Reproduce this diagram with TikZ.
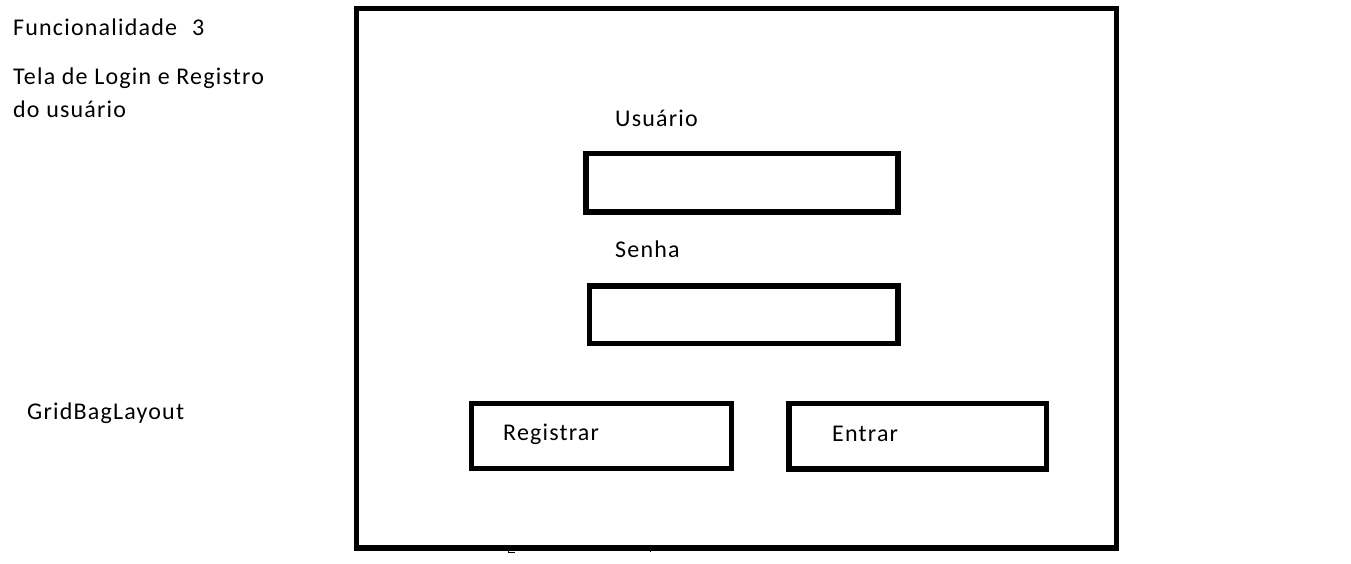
\documentclass[tikz,border=0pt]{standalone}
\usepackage{fontspec}
\setmainfont{Carlito}[LetterSpace=5]
\begin{document}
\begin{tikzpicture}[x=1pt,y=-1pt,
  box/.style={draw=black,line width=5.3pt,inner sep=0pt},
  lbl/.style={anchor=base west,inner sep=0pt,font=\fontsize{24}{28}\selectfont},
  tick/.style={draw=black,line width=1pt}]
\useasboundingbox[fill=white] (0,0) rectangle (1351,564);
% outer window
\node[box,minimum width=760pt,minimum height=539.5pt] (win) at (736.5,278.25) {};
% fields
\node[box,minimum width=312pt,minimum height=58.5pt] (user) at (742,182.75) {};
\node[box,minimum width=308.5pt,minimum height=57.3pt] (pass) at (743.75,314.7) {};
\node[box,minimum width=260pt,minimum height=65pt] (reg) at (601.5,436) {};
\node[box,minimum width=257.7pt,minimum height=65.5pt] (ent) at (917.85,436.25) {};
% texts
\node[lbl] (t1) at (13,36) {Funcionalidade};
\node[lbl] (t1n) at (192,36) {3};
\node[lbl] (t2) at (13,85) {Tela de Login e Registro};
\node[lbl] (t3) at (13,118) {do usuário};
\node[lbl] (t4) at (27,419) {GridBagLayout};
\node[lbl] (tu) at (615,127) {Usuário};
\node[lbl] (ts) at (615,257) {Senha};
\node[lbl] (tr) at (503,440) {Registrar};
\node[lbl] (te) at (832,441) {Entrar};
% small marks under the window
\coordinate (m1a) at (508.5,549);
\coordinate (m1b) at (508.5,552.5);
\coordinate (m1c) at (515,552.5);
\draw[tick] (m1a) -- (m1b) -- (m1c);
\coordinate (m2a) at (650.5,549);
\coordinate (m2b) at (650.5,552);
\draw[tick] (m2a) -- (m2b);
\end{tikzpicture}
\end{document}
